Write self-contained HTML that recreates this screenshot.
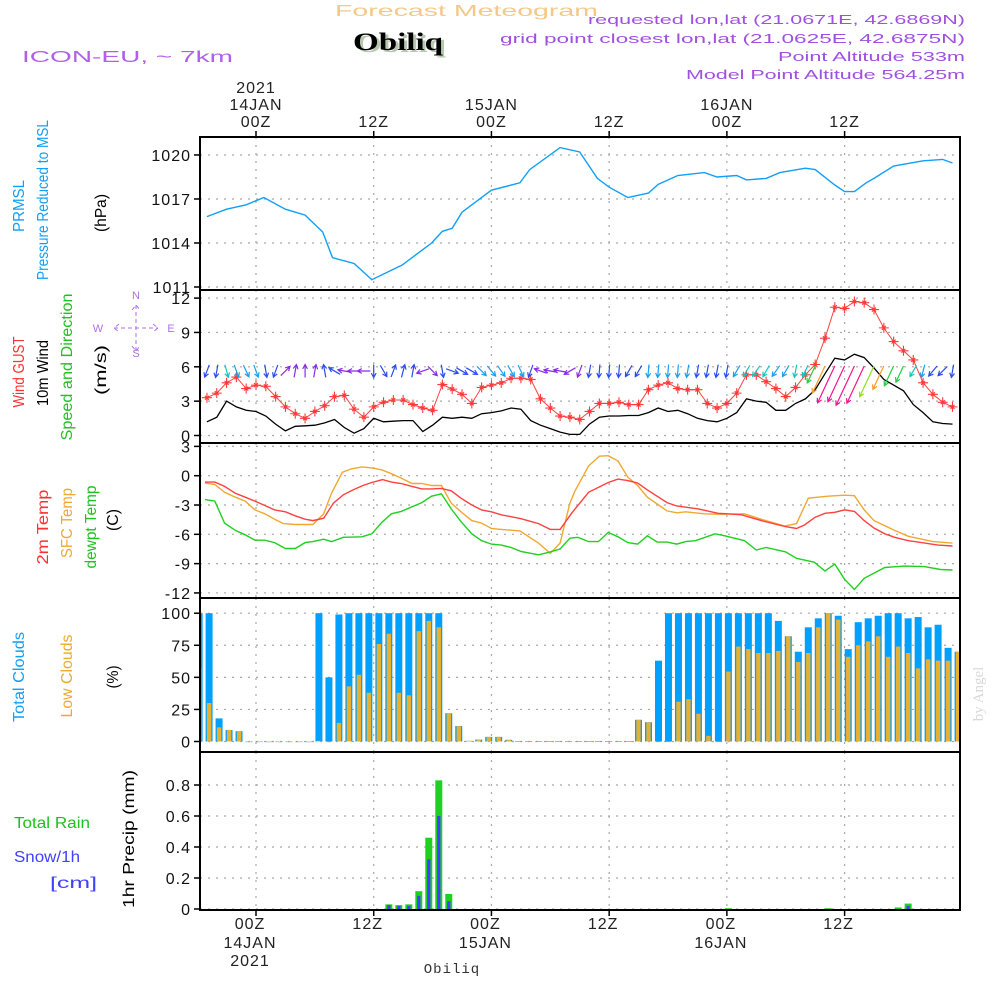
<!DOCTYPE html>
<html><head><meta charset="utf-8"><title>Forecast Meteogram Obiliq</title>
<style>
html,body{margin:0;padding:0;background:#fff;}
svg{display:block;font-family:"Liberation Sans",sans-serif;}
</style></head>
<body>
<svg id="chart" width="1000" height="1000" viewBox="0 0 1000 1000" xmlns="http://www.w3.org/2000/svg">
  <g>
    <text x="335" y="16" font-size="16" fill="#f5c888" textLength="263" lengthAdjust="spacingAndGlyphs">Forecast Meteogram</text>
    <text x="356" y="52" font-family="Liberation Serif,serif" font-weight="bold" font-size="25" fill="#b8c8b0" textLength="90" lengthAdjust="spacingAndGlyphs">Obiliq</text>
    <text x="353" y="50" font-family="Liberation Serif,serif" font-weight="bold" font-size="25" fill="#000" textLength="90" lengthAdjust="spacingAndGlyphs">Obiliq</text>
    <text x="22" y="62" font-size="16" fill="#b060e8" textLength="211" lengthAdjust="spacingAndGlyphs">ICON-EU, ~ 7km</text>
    <text x="588" y="24" font-size="13" fill="#a050e0" textLength="377" lengthAdjust="spacingAndGlyphs">requested lon,lat (21.0671E, 42.6869N)</text>
    <text x="500" y="43" font-size="13" fill="#a050e0" textLength="465" lengthAdjust="spacingAndGlyphs">grid point closest lon,lat (21.0625E, 42.6875N)</text>
    <text x="778" y="61" font-size="13" fill="#a050e0" textLength="187" lengthAdjust="spacingAndGlyphs">Point Altitude 533m</text>
    <text x="686" y="79" font-size="13" fill="#a050e0" textLength="279" lengthAdjust="spacingAndGlyphs">Model Point Altitude 564.25m</text>
  </g>
  <g id="grids"></g>
  <g id="marks"></g>
  <g id="frames"></g>
  <g id="labels"></g>
</svg>
<script>
// ---------- DATA ----------
const timeTickHours = [0, 12, 24, 36, 48, 60];
const timeTickLabels = ["00Z", "12Z", "00Z", "12Z", "00Z", "12Z"];
const dayLabels = ["14JAN", "", "15JAN", "", "16JAN", ""];
const yearLabels = ["2021", "", "", "", "", ""];

const pressHours = [-5,-3,-1,0.8,3,5,6.8,7.8,10,11.8,14.9,17.9,19,20,21,24,26.9,27.9,31,33,34.8,36,37.9,40,41,43,45.7,47,49,50,52,53.4,56,57,59,60,61,62.2,63,65,68,70,71];
const pressValues = [1015.8,1016.3,1016.6,1017.1,1016.3,1015.9,1014.75,1013.0,1012.6,1011.5,1012.5,1014.0,1014.8,1015.0,1016.1,1017.6,1018.1,1019.0,1020.5,1020.2,1018.4,1017.8,1017.1,1017.4,1018.0,1018.6,1018.8,1018.5,1018.6,1018.3,1018.4,1018.8,1019.1,1019.0,1017.95,1017.5,1017.5,1018.1,1018.4,1019.25,1019.6,1019.7,1019.45];
const pressTicks = [1011, 1014, 1017, 1020];

const windStartHour = -5;
const windSpeed = [1.2,1.6,3.0,2.5,2.2,2.1,1.7,1.0,0.4,0.8,0.85,0.9,1.1,1.4,0.7,0.2,0.6,1.5,1.2,1.25,1.3,1.3,0.35,0.9,1.6,1.5,1.6,1.5,1.9,2.0,2.15,2.4,2.3,1.3,0.9,0.6,0.3,0.1,0.1,1.0,1.6,1.7,1.7,1.75,1.75,2.0,2.4,2.1,2.2,1.9,1.5,1.3,1.2,1.5,2.0,3.2,3.0,2.9,2.2,2.2,2.8,3.2,4.0,5.4,6.75,6.6,7.1,6.8,5.9,4.9,4.4,3.9,2.7,2.0,1.2,1.05,1.0];
const windGust = [3.3,3.7,4.6,5.1,4.1,4.4,4.3,3.4,2.5,1.9,1.5,2.1,2.6,3.4,3.5,2.3,1.6,2.5,2.9,3.1,3.1,2.7,2.4,2.2,4.45,4.05,3.6,2.8,4.2,4.4,4.6,5.0,5.0,4.9,3.2,2.4,1.7,1.6,1.4,2.1,2.8,2.8,2.9,2.7,2.7,4.0,4.4,4.6,4.1,4.0,4.0,2.8,2.4,2.8,3.7,5.3,5.3,4.7,4.1,3.4,4.2,5.3,6.2,8.5,11.2,11.1,11.7,11.6,11.0,9.4,8.2,7.4,6.6,4.6,3.6,2.9,2.5];
const windDir = [200,190,165,160,155,160,170,200,45,10,0,10,350,300,280,270,270,180,150,20,15,10,250,135,170,110,120,120,135,140,145,150,155,200,290,280,280,240,200,190,185,185,185,210,210,185,185,185,185,190,190,190,190,190,210,210,215,210,215,210,190,205,205,205,205,205,205,205,205,205,205,205,210,195,220,225,190];
const windTicks = [0, 3, 6, 9, 12];

const t2Hours = [-5.2,-4.2,-3.2,-2.1,-1.1,-0.1,0.9,1.9,3,4,5,5.8,6.9,7.9,8.9,9.9,10.9,11.8,12.9,13.8,14.8,15.9,16.9,17.9,18.9,19.9,20.9,22,23,24,25,26,27,27.7,28.8,30,31,32.2,33.9,35.9,36.9,37.9,38.9,39.9,41.9,42.9,45.1,47.1,48.1,49.5,51.5,53.9,55.1,55.9,57,58,59,60,61,62,63,64.1,65.1,66.5,67.5,69.5,71];
const t2Values = [-0.65,-0.65,-1.1,-1.8,-2.2,-2.6,-3.05,-3.5,-3.7,-4.1,-4.45,-4.6,-4.35,-2.8,-1.95,-1.45,-1.0,-0.7,-0.4,-0.65,-0.8,-1.1,-1.35,-1.35,-1.3,-1.55,-2.3,-3.0,-3.5,-3.7,-4.0,-4.2,-4.4,-4.6,-4.9,-5.5,-5.5,-3.8,-1.7,-0.7,-0.35,-0.5,-0.75,-1.45,-2.75,-3.1,-3.4,-3.85,-3.9,-4.0,-4.6,-5.2,-5.4,-5.05,-4.25,-3.85,-3.75,-3.5,-3.65,-4.6,-5.35,-5.95,-6.3,-6.65,-6.8,-7.1,-7.2];
const sfcHours = [-5.2,-4.2,-3.2,-2.1,-1.1,-0.1,0.9,1.9,2.8,4,5.8,6.9,7.7,8.8,9.7,10.8,11.8,12.8,13.8,14.8,15.9,16.9,17.9,18.9,19.9,20.9,22,23,24,25,26.9,28.8,30,31,32,32.5,33.9,35,35.9,36.9,37.9,38.9,39.9,40.9,41.9,42.9,43.8,45.7,47.4,49.8,51.5,53.9,55.1,56.3,58.3,60,61,62,63,65.1,66.5,69,71];
const sfcValues = [-0.75,-0.9,-1.7,-2.2,-2.6,-3.5,-3.9,-4.45,-4.9,-5.0,-5.0,-3.9,-1.8,0.35,0.7,0.9,0.8,0.6,0.2,-0.25,-0.8,-0.8,-1.0,-1.0,-2.8,-3.7,-4.6,-4.85,-5.4,-5.5,-5.65,-6.9,-7.95,-6.9,-2.8,-1.6,1.0,2.0,2.05,1.5,-0.15,-1.0,-2.2,-2.9,-3.6,-3.8,-3.7,-3.9,-3.95,-3.9,-4.45,-5.15,-4.9,-2.3,-2.1,-2.0,-2.05,-3.5,-4.6,-5.6,-6.2,-6.75,-6.9];
const dewHours = [-5.2,-4.2,-3.2,-2.1,-1.1,-0.1,0.9,1.9,3,4,5,5.8,6.9,7.7,8.9,10.8,11.8,12.8,13.8,14.8,16.9,17.9,18.9,19.9,20.9,22,23,24,25,26,27,28.8,29.8,31,32,32.8,33.9,34.9,35.9,36.9,37.9,38.9,39.9,40.9,41.9,42.9,43.8,44.8,46.8,47.8,49.8,51,52,54,55.1,56.9,58,59,60,61,62,64.1,66.1,68.1,69.8,71];
const dewValues = [-2.45,-2.6,-4.85,-5.6,-6.05,-6.6,-6.6,-6.85,-7.45,-7.45,-6.85,-6.75,-6.5,-6.75,-6.3,-6.25,-5.95,-4.8,-3.9,-3.65,-2.75,-2.1,-1.85,-3.4,-4.7,-5.95,-6.65,-7.0,-7.1,-7.35,-7.75,-8.1,-7.85,-7.5,-6.4,-6.3,-6.75,-6.75,-5.8,-6.25,-6.85,-7.0,-6.15,-6.8,-6.8,-7.0,-6.75,-6.65,-5.95,-6.15,-6.65,-7.6,-7.35,-7.8,-8.45,-8.85,-9.75,-9.05,-10.6,-11.65,-10.5,-9.4,-9.25,-9.3,-9.6,-9.65];
const tempTicks = [3, 0, -3, -6, -9, -12];

const barStartHour = -5.8;
const barStepHours = 1.018;
const totalClouds = [100,100,18,9,8,0,0,0,0,0,0,0,100,50,99,100,100,100,100,100,100,100,100,100,100,22,12,0.5,1.5,3.6,3.6,1.3,0.3,0.3,0.3,0.3,0.3,0.3,0.3,0.3,0.3,0.3,0.3,0.3,16.9,15,63,100,100,100,100,100,100,100,100,100,100,100,94,82,70,89,96,100,98,72,93,96,98,100,100,96,97,89,91,73,70];
const lowClouds = [57,30,11,9,8,0,0,0,0,0,0,0,0.5,0,14.5,43,52,38,76,84,38,36,86,94,89,22,12,0.5,1.5,3.6,3.6,1.3,0.3,0.3,0.3,0.3,0.3,0.3,0.3,0.3,0.3,0.3,0.3,0.3,16.9,15,0,0,31,33,21.6,4.4,0,54.5,74,72,69,69,70.6,82,62,69,89,100,95,66,75,78,82,66,74,69,57,64,63,63,70];
const cloudTicks = [0, 25, 50, 75, 100];

const rainTotal = [0,0,0,0,0,0,0,0,0,0,0,0,0,0,0,0,0,0,0,0.03,0.025,0.03,0.115,0.46,0.83,0.097,0,0,0,0,0,0,0,0,0,0,0,0,0,0,0,0,0,0,0,0,0,0,0,0,0,0,0,0.005,0,0,0,0,0,0,0,0,0,0.005,0,0,0,0,0,0,0.01,0.035,0,0,0,0,0];
const snowTotal = [0,0,0,0,0,0,0,0,0,0,0,0,0,0,0,0,0,0,0,0.025,0.02,0.02,0.085,0.32,0.6,0.05,0,0,0,0,0,0,0,0,0,0,0,0,0,0,0,0,0,0,0,0,0,0,0,0,0,0,0,0,0,0,0,0,0,0,0,0,0,0,0,0,0,0,0,0,0,0.02,0,0,0,0,0];
const precipTicks = [0, 0.2, 0.4, 0.6, 0.8];
const precipTickLabels = ["0", "0.2", "0.4", "0.6", "0.8"];

// ---------- SCALES ----------
const X0 = 200, X1 = 960;
function X(h){ return 256 + h * 9.81; }
const panels = {
  press:  {top:137, bot:290, y: v => 287 - (v - 1011) * 14.67},
  wind:   {top:290, bot:443, y: v => 435.5 - v * 11.45},
  temp:   {top:443, bot:598, y: v => 475.7 - v * 9.77},
  cloud:  {top:598, bot:752, y: v => 741.5 - v * 1.283},
  precip: {top:752, bot:910, y: v => 909 - v * 155}
};

const NS = "http://www.w3.org/2000/svg";
function mk(tag, attrs, parent){
  const e = document.createElementNS(NS, tag);
  for (const k in attrs) e.setAttribute(k, attrs[k]);
  if (parent) parent.appendChild(e);
  return e;
}
const svg = document.getElementById("chart");
const gGrid = document.getElementById("grids");
const gMarks = document.getElementById("marks");
const gFrames = document.getElementById("frames");
const gLabels = document.getElementById("labels");
const defs = mk("defs", {}, svg);

for (const key in panels){
  const p = panels[key];
  const cp = mk("clipPath", {id: "clip-" + key}, defs);
  mk("rect", {x: X0, y: p.top, width: X1 - X0, height: p.bot - p.top}, cp);
}

function txt(parent, x, y, s, attrs){
  const t = mk("text", Object.assign({x: x, y: y}, attrs || {}), parent);
  t.textContent = s;
  return t;
}

// ---------- FRAMES, GRIDS, TICKS ----------
const tickSets = {press: pressTicks, wind: windTicks, temp: tempTicks, cloud: cloudTicks, precip: precipTicks};
for (const key in panels){
  const p = panels[key];
  const grid = mk("g", {}, gGrid);
  
  
  timeTickHours.forEach(h => {
    mk("line", {x1: X(h), x2: X(h), y1: p.top, y2: p.bot, stroke: "#a8a8a8", "stroke-width": 1.2, "stroke-dasharray": "2,6"}, grid);
  });
  const axis = mk("g", {}, gLabels);
  
  
  tickSets[key].forEach((v, i) => {
    const y = p.y(v);
    mk("line", {x1: X0, x2: X1, y1: y, y2: y, stroke: "#a8a8a8", "stroke-width": 1.2, "stroke-dasharray": "2,6"}, grid);
    mk("line", {x1: X0 - 6, x2: X0, y1: y, y2: y, stroke: "#000", "stroke-width": 1.5}, axis);
    const lab = key === "precip" ? precipTickLabels[i] : String(v);
    const t = txt(axis, 191, y + 6, lab, {"font-size": 16, fill: "#111", "text-anchor": "end", "letter-spacing": "1"});
    
    
  });
  const fr = mk("rect", {x: X0, y: p.top, width: X1 - X0, height: p.bot - p.top, fill: "none", stroke: "#000", "stroke-width": 2}, gFrames);
  
  
}

const topAxis = mk("g", {}, gLabels);


const botAxis = mk("g", {}, gLabels);


timeTickHours.forEach((h, i) => {
  const x = X(h);
  mk("line", {x1: x, x2: x, y1: 131, y2: 137, stroke: "#000", "stroke-width": 1.5}, topAxis);
  mk("line", {x1: x, x2: x, y1: 910, y2: 916, stroke: "#000", "stroke-width": 1.5}, botAxis);
  const a = {"font-size": 16, fill: "#222", "text-anchor": "middle", "letter-spacing": "1"};
  txt(topAxis, x, 127, timeTickLabels[i], a);
  if (dayLabels[i]) txt(topAxis, x, 110, dayLabels[i], a);
  if (yearLabels[i]) txt(topAxis, x, 93, yearLabels[i], a);
  txt(botAxis, x - 6, 929, timeTickLabels[i], a);
  if (dayLabels[i]) txt(botAxis, x - 6, 948, dayLabels[i], a);
  if (yearLabels[i]) txt(botAxis, x - 6, 966, yearLabels[i], a);
});
const stationLbl = txt(gLabels, 452, 973, "Obiliq", {"font-size": 14, fill: "#333", "text-anchor": "middle", "font-family": "Liberation Mono, monospace", "letter-spacing": "1"});



// ---------- SERIES ----------
function polyline(hours, vals, p, color, name, clip, width){
  const pts = hours.map((h, i) => X(h).toFixed(1) + "," + p.y(vals[i]).toFixed(1)).join(" ");
  const pl = mk("polyline", {points: pts, fill: "none", stroke: color, "stroke-width": width || 1.4, "clip-path": "url(#clip-" + clip + ")"}, gMarks);
  
  
  return pl;
}

polyline(pressHours, pressValues, panels.press, "#10a0f8", "prmsl-line", "press");

const windHours = windSpeed.map((v, i) => windStartHour + i);
polyline(windHours, windSpeed, panels.wind, "#000", "wind-speed-line", "wind", 1.3);
polyline(windHours, windGust, panels.wind, "#ff4040", "wind-gust-line", "wind", 1.0);
const gustG = mk("g", {stroke: "#ff3a3a", "stroke-width": 1.1, "clip-path": "url(#clip-wind)"}, gMarks);


windGust.forEach((v, i) => {
  const x = X(windHours[i]), y = panels.wind.y(v);
  const m = mk("path", {d: `M${x-5},${y}H${x+5}M${x},${y-5}V${y+5}M${x-2},${y-2}L${x+2},${y+2}M${x-2},${y+2}L${x+2},${y-2}`}, gustG);
  
  
});

function windColor(s){
  if (s < 1.0) return "#8a2be8";
  if (s < 1.8) return "#2a4cf0";
  if (s < 2.6) return "#18a0f0";
  if (s < 3.3) return "#10c8c0";
  if (s < 4.5) return "#20d040";
  if (s < 5.6) return "#ff9a20";
  if (s < 6.6) return "#90e020";
  return "#ff1090";
}
const arrowG = mk("g", {"stroke-width": 1.2, fill: "none", "clip-path": "url(#clip-wind)"}, gMarks);


windDir.forEach((d, i) => {
  const s = windSpeed[i];
  const len = 13 + Math.max(0, s - 3.3) * 8;
  const r = d * Math.PI / 180;
  const dx = Math.sin(r), dy = -Math.cos(r);
  const cx = X(windHours[i]);
  let x0, y0;
  if (len > 16) { x0 = cx; y0 = 366; } else { x0 = cx - dx * len / 2; y0 = 371 - dy * len / 2; }
  const x1 = x0 + dx * len, y1 = y0 + dy * len;
  const a1 = r + Math.PI - 0.5, a2 = r + Math.PI + 0.5;
  const hl = 5;
  const d1 = `M${x0.toFixed(1)},${y0.toFixed(1)}L${x1.toFixed(1)},${y1.toFixed(1)}` +
    `M${(x1 + Math.sin(a1)*hl).toFixed(1)},${(y1 - Math.cos(a1)*hl).toFixed(1)}L${x1.toFixed(1)},${y1.toFixed(1)}L${(x1 + Math.sin(a2)*hl).toFixed(1)},${(y1 - Math.cos(a2)*hl).toFixed(1)}`;
  const ar = mk("path", {d: d1, stroke: windColor(s)}, arrowG);
  
  
});

polyline(sfcHours, sfcValues, panels.temp, "#f0a830", "sfc-temp-line", "temp");
polyline(t2Hours, t2Values, panels.temp, "#ff4040", "temp-2m-line", "temp");
polyline(dewHours, dewValues, panels.temp, "#20d020", "dewpoint-line", "temp");

const cloudG = mk("g", {"clip-path": "url(#clip-cloud)"}, gMarks);


const pc = panels.cloud;
totalClouds.forEach((v, i) => {
  const x = X(barStartHour + i * barStepHours);
  const b = mk("rect", {x: x - 3.5, y: pc.y(v), width: 7, height: Math.max(0.6, pc.y(0) - pc.y(v)), fill: "#00a0ff"}, cloudG);
  
  
  const lv = lowClouds[i];
  const o = mk("rect", {x: x - 2.2, y: pc.y(lv), width: 4.4, height: Math.max(0.6, pc.y(0) - pc.y(lv)), fill: "#e8b030"}, cloudG);
  
  
});

const precG = mk("g", {"clip-path": "url(#clip-precip)"}, gMarks);


const pp = panels.precip;
rainTotal.forEach((v, i) => {
  const x = X(barStartHour + i * barStepHours);
  if (v > 0){
    const b = mk("rect", {x: x - 3.5, y: pp.y(v), width: 7, height: pp.y(0) - pp.y(v), fill: "#20d020"}, precG);
    
    
  }
  const sv = snowTotal[i];
  if (sv > 0){
    const s = mk("rect", {x: x - 1.6, y: pp.y(sv), width: 3.2, height: pp.y(0) - pp.y(sv), fill: "#4040ff"}, precG);
    
    
  }
});

// ---------- SIDE LABELS ----------
function vlabel(cx, cy, s, color, name, len){
  const t = mk("text", {x: 0, y: 0, transform: `translate(${cx + 6},${cy}) rotate(-90)`, "font-size": 16, fill: color, "text-anchor": "middle", textLength: len, lengthAdjust: "spacingAndGlyphs"}, gLabels);
  t.textContent = s;
  
  
}
vlabel(18, 206, "PRMSL", "#10a0f8", "prmsl-label", 52);
vlabel(42, 200, "Pressure Reduced to MSL", "#10a0f8", "pressure-label", 160);
vlabel(100, 213, "(hPa)", "#000", "pressure-unit", 38);
vlabel(18, 372, "Wind GUST", "#ff3030", "wind-gust-label", 71);
vlabel(42, 373, "10m Wind", "#000", "wind-label", 66);
vlabel(66, 367, "Speed and Direction", "#20c020", "wind-speed-direction-label", 147);
vlabel(100, 370, "(m/s)", "#000", "wind-unit", 50);
vlabel(42, 527, "2m Temp", "#ff3030", "temp-2m-label", 75);
vlabel(66, 523, "SFC Temp", "#f0a830", "sfc-temp-label", 70);
vlabel(90, 527, "dewpt Temp", "#20c020", "dewpoint-label", 83);
vlabel(112, 520, "(C)", "#000", "temp-unit", 22);
vlabel(18, 677, "Total Clouds", "#10a0f8", "total-clouds-label", 90);
vlabel(66, 676, "Low Clouds", "#f0a830", "low-clouds-label", 83);
vlabel(112, 677, "(%)", "#000", "cloud-unit", 23);
vlabel(128, 839, "1hr Precip (mm)", "#000", "precip-axis-title", 138);

const hl1 = txt(gLabels, 14, 828, "Total   Rain", {"font-size": 16, fill: "#20c020", textLength: 76, lengthAdjust: "spacingAndGlyphs"});


const hl2 = txt(gLabels, 14, 862, "Snow/1h", {"font-size": 16, fill: "#4040ff", textLength: 66, lengthAdjust: "spacingAndGlyphs"});


const hl3 = txt(gLabels, 50, 888, "[cm]", {"font-size": 16, fill: "#4040ff", textLength: 47, lengthAdjust: "spacingAndGlyphs"});



const comp = mk("g", {fill: "#b070e8", stroke: "none", "font-size": 11, "text-anchor": "middle"}, gLabels);


txt(comp, 136, 299, "N"); txt(comp, 136, 357, "S"); txt(comp, 98, 332, "W"); txt(comp, 171, 332, "E");
mk("path", {d: "M114,328H158M119,324L114,328L119,332M153,324L158,328L153,332M136,305V351M132,310L136,305L140,310M132,346L136,351L140,346", stroke: "#b070e8", "stroke-width": 1, fill: "none", "stroke-dasharray": "4,3"}, comp);

const wm = mk("text", {x: 0, y: 0, transform: "translate(983,694) rotate(-90)", "font-size": 15, fill: "#d8d8d8", "text-anchor": "middle", "font-family": "Liberation Serif, serif"}, gLabels);
wm.textContent = "by Angel";


</script>
</body></html>
